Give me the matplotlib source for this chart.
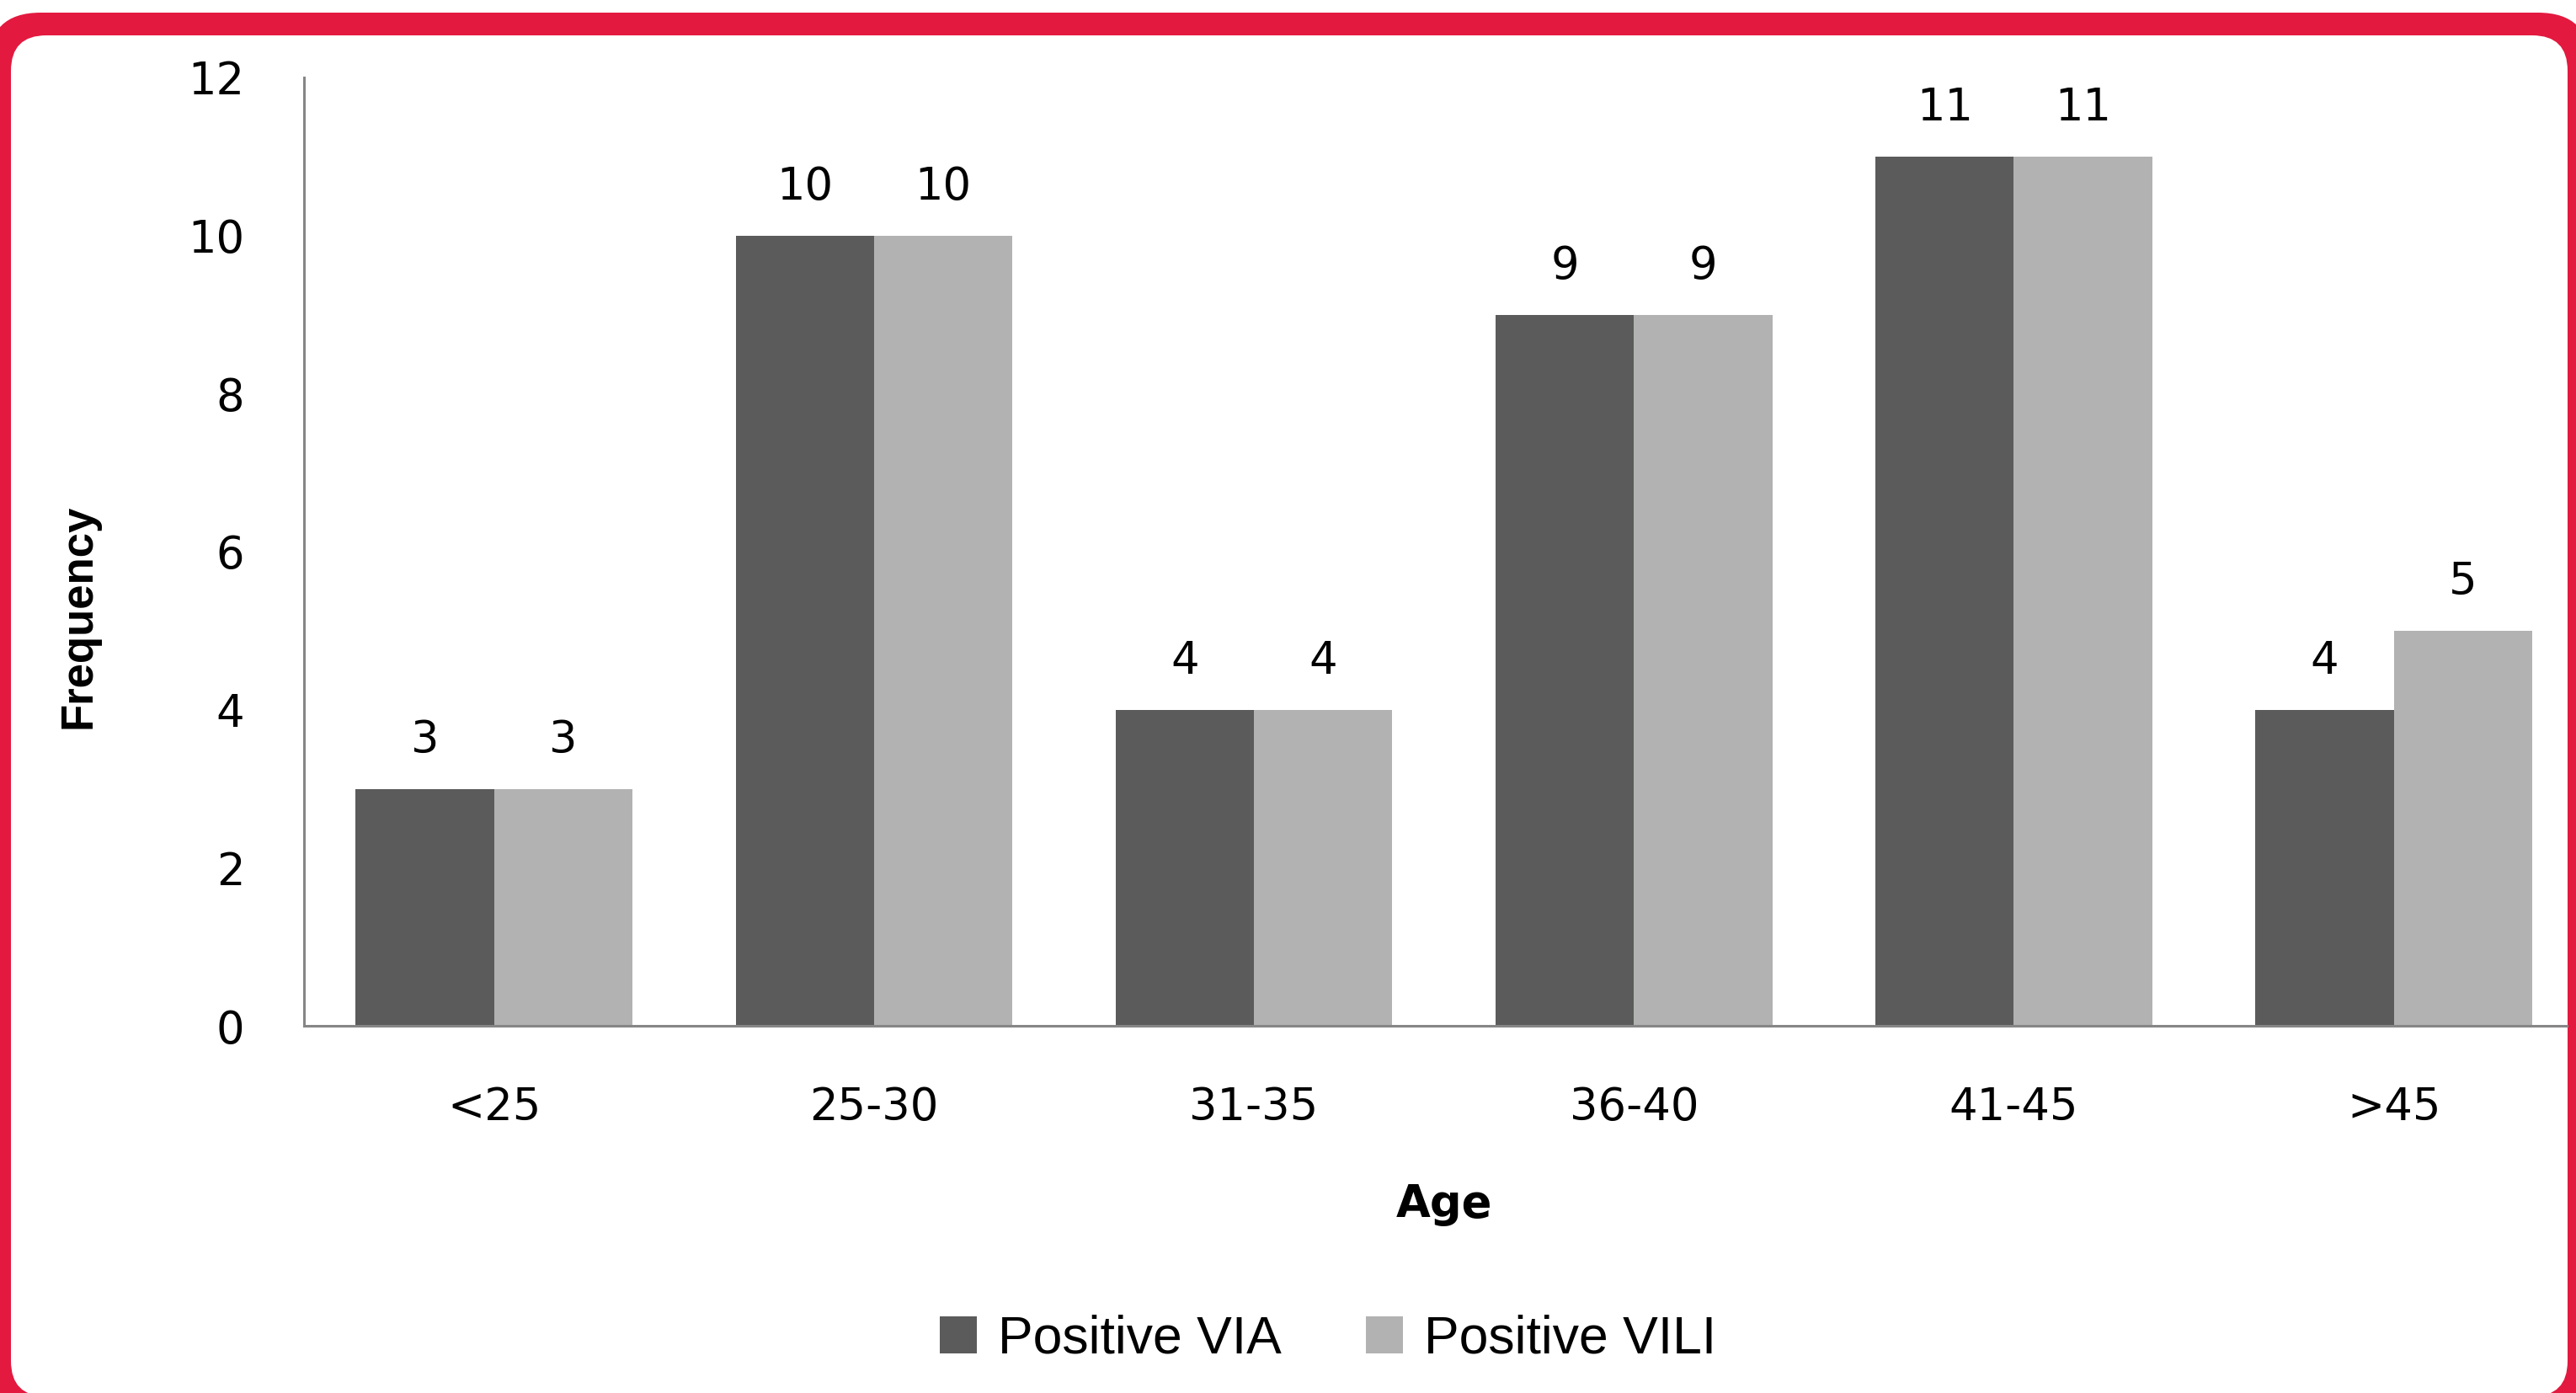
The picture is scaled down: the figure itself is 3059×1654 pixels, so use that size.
import numpy as np
import matplotlib.pyplot as plt
from matplotlib.patches import FancyBboxPatch

# age groups and counts of positive screens
age_groups = ['<25', '25-30', '31-35', '36-40', '41-45', '>45']
positive_via = [3, 10, 4, 9, 11, 4]
positive_vili = [3, 10, 4, 9, 11, 5]

color_via = '#5a5b5a'
color_vili = '#b2b2b2'
color_axis = '#868686'
color_frame = '#e3193f'

W, H, DPI = 3059, 1654, 100
fig = plt.figure(figsize=(W / DPI, H / DPI), dpi=DPI, facecolor='white')


def rounded_box(left, top, right, bottom, radius, color, z):
    # pixel coords measured from the top-left corner
    return FancyBboxPatch((left, H - bottom), right - left, bottom - top,
                          boxstyle=f'round,pad=0,rounding_size={radius}',
                          transform=None, facecolor=color, edgecolor='none',
                          zorder=z, clip_on=False)


# red rounded frame: filled outer box with a white box cut into it
fig.add_artist(rounded_box(-14, 15, 3076, 1685, 62, color_frame, -2))
fig.add_artist(rounded_box(13, 42, 3049, 1658, 42, 'white', -1))

ax = fig.add_axes([361 / W, 1 - 1218 / H, (3048 - 361) / W, (1218 - 92) / H])
ax.patch.set_alpha(0)

x = np.arange(len(age_groups))
width = 0.364
bars_via = ax.bar(x - width / 2, positive_via, width, color=color_via, label='Positive VIA')
bars_vili = ax.bar(x + width / 2, positive_vili, width, color=color_vili, label='Positive VILI')

for bars, vals in ((bars_via, positive_via), (bars_vili, positive_vili)):
    for b, v in zip(bars, vals):
        ax.annotate(str(v), (b.get_x() + b.get_width() / 2, v),
                    xytext=(0, 41.5), textcoords='offset points',
                    ha='center', va='center', fontsize=38, color='black')

ax.set_xlim(-0.5, 5.455)
ax.set_ylim(0, 12)
ax.set_yticks(range(0, 13, 2))
ax.set_xticks(x)
ax.set_xticklabels(age_groups)
ax.tick_params(axis='both', length=0, labelsize=38, colors='black')
ax.tick_params(axis='y', pad=51)
ax.tick_params(axis='x', pad=51)

for side in ('top', 'right'):
    ax.spines[side].set_visible(False)
for side in ('left', 'bottom'):
    ax.spines[side].set_color(color_axis)
    ax.spines[side].set_linewidth(2.2)

fig.text(1715 / W, 1 - 1430 / H, 'Age', ha='center', va='center',
         fontsize=38, fontweight='bold')
fig.text(94 / W, 1 - 732 / H, 'Frequency', ha='center', va='center', rotation=90,
         fontsize=38, fontweight='bold', family=['Liberation Sans', 'DejaVu Sans'])

fig.legend(loc='center', bbox_to_anchor=(1577 / W, 1 - 1590 / H), ncol=2, frameon=False,
           handlelength=0.7, handleheight=0.7, handletextpad=0.4, columnspacing=1.6,
           prop={'family': ['Liberation Sans', 'DejaVu Sans'], 'size': 45})

fig.savefig('out.png', dpi=DPI, facecolor='white')
